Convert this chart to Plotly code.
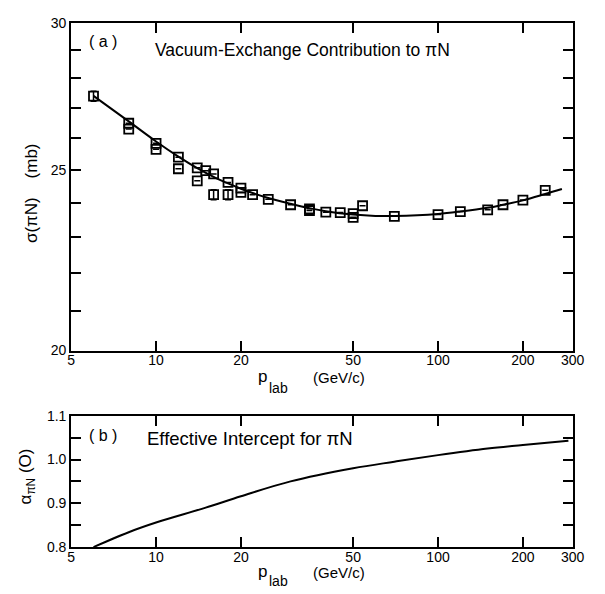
import math
import plotly.graph_objects as go

# ---- data: panel (a) measured points ----
p_a = [6, 8, 8, 10, 10, 12, 12, 14, 14, 15, 16, 16, 18, 18, 20, 20, 22, 25, 30, 35, 35,
       40, 45, 50, 50, 54, 70, 100, 120, 150, 170, 200, 240]
sig_a = [27.39, 26.49, 26.30, 25.84, 25.65, 25.40, 25.04, 25.07, 24.67, 24.98, 24.88, 24.25,
         24.62, 24.25, 24.45, 24.32, 24.25, 24.11, 23.95, 23.83, 23.78,
         23.73, 23.72, 23.69, 23.58, 23.92, 23.61, 23.66, 23.75, 23.80, 23.95, 24.09, 24.38]
err_a = [0.17, 0, 0, 0, 0, 0, 0, 0, 0, 0, 0, 0.15, 0, 0.15, 0, 0, 0, 0, 0, 0, 0,
         0, 0, 0, 0, 0, 0, 0, 0, 0, 0, 0, 0]

# ---- panel (a) fitted curve ----
p_fit = [6, 8, 10, 12, 14, 16, 18, 20, 22, 25, 30, 35, 40, 50, 60, 70, 100, 120, 150, 170, 200, 240, 275]
sig_fit = [27.40, 26.55, 25.90, 25.42, 25.06, 24.79, 24.59, 24.43, 24.30, 24.15, 23.98, 23.85,
           23.76, 23.66, 23.62, 23.62, 23.68, 23.75, 23.86, 23.95, 24.08, 24.27, 24.42]

# ---- panel (b) effective intercept curve ----
p_b = [6, 8, 10, 15, 20, 30, 50, 70, 100, 150, 200, 290]
alpha_b = [0.800, 0.834, 0.856, 0.890, 0.916, 0.950, 0.980, 0.995, 1.010, 1.025, 1.033, 1.043]

# ---- ticks ----
x_ticks = [5, 10, 20, 50, 100, 200, 300]
x_ticktext = ["5", "10", "20", "50", "100", "200", "300"]
ya_major = [20, 25, 30]
ya_minor = [21, 22, 23, 24, 26, 27, 28, 29]
yb_major = [0.8, 0.9, 1.0, 1.1]
yb_minor = [0.85, 0.95, 1.05]

W, H = 605, 594
FONT = "Liberation Sans"

fig = go.Figure()
fig.add_trace(go.Scatter(x=p_fit, y=sig_fit, mode="lines", line=dict(color="black", width=2, shape="spline"),
                         xaxis="x", yaxis="y", showlegend=False, hoverinfo="skip"))
fig.add_trace(go.Scatter(x=p_a, y=sig_a, mode="markers",
                         marker=dict(symbol="square-open", size=9, color="black", line=dict(width=1.8)),
                         error_y=dict(type="data", array=err_a, color="black", thickness=1.5, width=3),
                         xaxis="x", yaxis="y", showlegend=False))
fig.add_trace(go.Scatter(x=p_b, y=alpha_b, mode="lines", line=dict(color="black", width=2, shape="spline"),
                         xaxis="x2", yaxis="y2", showlegend=False))

xdom = [69 / W, 584 / W]
axis_common = dict(showline=True, linecolor="black", linewidth=2, mirror="ticks", ticks="inside",
                   ticklen=10, tickwidth=1.5, tickcolor="black", showgrid=False, zeroline=False,
                   tickfont=dict(family=FONT, size=14, color="black"))
minor_common = dict(ticks="inside", ticklen=10, tickwidth=1.5, tickcolor="black", showgrid=False)

fig.update_layout(
    width=W, height=H, margin=dict(l=0, r=0, t=0, b=0),
    paper_bgcolor="white", plot_bgcolor="white",
    xaxis=dict(domain=xdom, type="log", range=[math.log10(5), math.log10(300)], anchor="y",
               tickmode="array", tickvals=x_ticks, ticktext=x_ticktext, ticklabelstandoff=-4,
               **axis_common),
    yaxis=dict(domain=[1 - 352 / H, 1 - 15 / H], type="log", range=[math.log10(20), math.log10(30)],
               anchor="x", tickmode="array", tickvals=ya_major, ticktext=[str(v) for v in ya_major],
               minor=dict(tickmode="array", tickvals=ya_minor, **minor_common), **axis_common),
    xaxis2=dict(domain=xdom, type="log", range=[math.log10(5), math.log10(300)], anchor="y2",
                tickmode="array", tickvals=x_ticks, ticktext=x_ticktext, ticklabelstandoff=-4,
                **axis_common),
    yaxis2=dict(domain=[1 - 554 / H, 1 - 419 / H], range=[0.8, 1.1], anchor="x2",
                tickmode="array", tickvals=yb_major, ticktext=["0.8", "0.9", "1.0", "1.1"],
                minor=dict(tickmode="array", tickvals=yb_minor, **minor_common), **axis_common),
)

def ann(text, px, py, size=15, angle=0, xanchor="center"):
    fig.add_annotation(text=text, x=px / W, y=1 - py / H, xref="paper", yref="paper",
                       showarrow=False, textangle=angle, xanchor=xanchor, yanchor="middle",
                       font=dict(family=FONT, size=size, color="black"))

ann("( a )", 102, 34, 16)
ann("Vacuum-Exchange Contribution to πN", 153, 43, 17.5, xanchor="left")
ann("( b )", 102, 439, 16)
ann("Effective Intercept for πN", 145, 442, 18.5, xanchor="left")
for base, lab_dy in ((380, 11), (580, 9)):
    ann("p", 266, base - 1, 17)
    ann("lab", 282, base + lab_dy, 14)
    ann("(GeV/c)", 344, base, 15)
ann("σ(πN)    (mb)", 29, 190, 17, angle=-90)
ann("α<sub>πN</sub> (O)", 24, 481, 17, angle=-90)

fig.write_html("out.html")
